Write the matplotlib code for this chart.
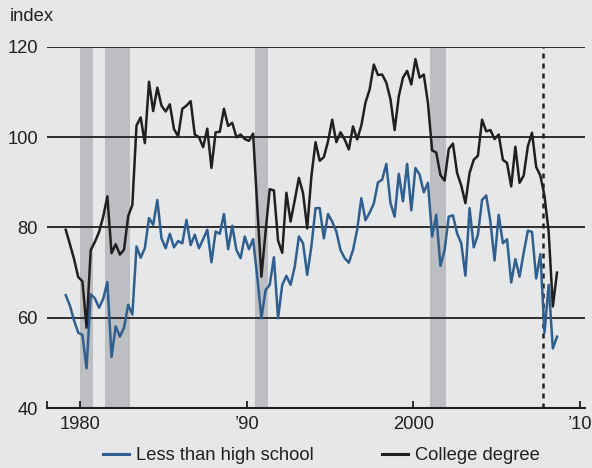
import numpy as np
import matplotlib.pyplot as plt
from matplotlib.lines import Line2D

# quarterly index values, 1979Q1 .. 2008Q3
start_year = 1979
college = [
    79.5, 76.3, 73.0, 69.0,
    68.1, 57.8, 75.0, 76.8,
    79.0, 82.4, 86.9, 74.3,
    76.3, 74.0, 75.1, 82.5,
    85.0, 102.6, 104.4, 98.7,
    112.3, 105.8, 111.0, 107.0,
    105.7, 107.3, 101.8, 100.2,
    106.3, 107.0, 108.0, 100.6,
    100.0, 97.8, 101.9, 93.2,
    101.1, 101.2, 106.3, 102.5,
    103.2, 100.0, 100.6, 99.6,
    99.2, 100.8, 84.7, 69.1,
    79.1, 88.5, 88.2, 77.1,
    74.4, 87.7, 81.3, 86.0,
    91.0, 87.6, 79.8, 91.3,
    98.9, 94.8, 95.6, 99.1,
    103.9, 98.9, 101.1, 99.5,
    97.3, 102.4, 99.5, 102.6,
    107.7, 110.6, 116.1, 113.8,
    113.9, 112.1, 108.4, 101.6,
    109.1, 113.2, 114.7, 111.7,
    117.3, 113.2, 113.9, 107.6,
    97.1, 96.6, 91.6, 90.4,
    97.4, 98.6, 92.1, 89.3,
    85.4, 92.1, 95.0, 95.9,
    103.9, 101.3, 101.6, 99.6,
    100.6, 95.0, 94.3, 89.1,
    97.9, 89.9, 91.5, 98.0,
    101.0, 93.4, 91.5, 87.0,
    79.0, 62.5, 70.0,
]
less_hs = [
    65.0, 62.7, 59.4, 56.7,
    56.2, 48.8, 65.2, 64.3,
    62.2, 64.2, 67.9, 51.3,
    58.1, 55.8, 57.8, 62.9,
    60.7, 75.8, 73.3, 75.4,
    82.1, 80.6, 86.1, 77.6,
    75.4, 78.6, 75.6, 77.0,
    76.5, 81.7, 76.1, 78.4,
    75.4, 77.4, 79.5, 72.3,
    79.1, 78.6, 83.0, 75.2,
    80.4, 75.0, 73.2, 78.0,
    75.2, 77.4, 69.1, 59.9,
    66.1, 67.3, 73.4, 59.9,
    67.3, 69.3, 67.3, 71.3,
    78.0, 76.5, 69.5, 75.8,
    84.3, 84.3, 77.6, 83.0,
    81.3, 79.1, 75.0, 73.2,
    72.2, 75.0, 79.5, 86.5,
    81.6, 83.3, 85.3, 90.0,
    90.6, 94.1, 85.4, 82.4,
    91.9, 85.8, 94.1, 83.8,
    93.2, 91.7, 87.8, 89.9,
    78.0, 82.8, 71.5, 75.0,
    82.4, 82.7, 78.7, 76.5,
    69.3, 84.3, 75.6, 78.4,
    86.1, 87.1, 81.3, 72.7,
    82.8, 76.5, 77.4, 67.8,
    73.0, 69.1, 74.4, 79.3,
    79.0, 68.7, 74.1, 56.7,
    67.3, 53.2, 55.8,
]
recessions = [(1980.0, 1980.75), (1981.5, 1983.0), (1990.5, 1991.25), (2001.0, 2001.95)]
latest_start = 2007.77

xticks = [1980, 1990, 2000, 2010]
xtick_labels = ['1980', '\u201990', '2000', '\u201910']
yticks = [40, 60, 80, 100, 120]

bg = '#e6e7e9'
blue = '#2f5f8e'
black = '#231f20'
fs = 13.2

plt.rcParams['font.family'] = ['Liberation Sans', 'DejaVu Sans']

# x positions: middle of each quarter
t = start_year + 0.125 + 0.25 * np.arange(len(college))

fig = plt.figure(figsize=(5.92, 4.68), dpi=100, facecolor=bg)
ax = fig.add_axes([0.0794, 0.1282, 0.9086, 0.7714], facecolor=bg)

for a, b in recessions:
    ax.axvspan(a, b, color='#bdbec2', lw=0, zorder=1)

for y in yticks[1:]:
    ax.axhline(y, color=black, lw=1.3, zorder=2)

ax.axvline(latest_start, color=black, lw=1.8, ls=(0, (2, 2)), zorder=3)

ax.plot(t, less_hs, color=blue, lw=1.8, zorder=4, label='Less than high school')
ax.plot(t, college, color=black, lw=1.8, zorder=5, label='College degree')

ax.set_xlim(1978.0, 2010.3)
ax.set_ylim(40, 120)
ax.set_yticks(yticks)
ax.set_xticks(xticks)
ax.set_xticklabels(xtick_labels)
ax.set_xticks([1978.0], minor=True)
ax.tick_params(axis='y', length=0, pad=6.5, labelsize=fs, colors=black)
ax.tick_params(axis='x', which='both', direction='in', length=5, width=1.3,
               pad=6, labelsize=fs, colors=black)
for s in ['top', 'right', 'left']:
    ax.spines[s].set_visible(False)
ax.spines['bottom'].set_linewidth(1.5)
ax.spines['bottom'].set_color(black)

fig.text(0.017, 0.965, 'index', fontsize=fs, color=black, va='center', ha='left')

handles = [Line2D([], [], color=blue, lw=2.2), Line2D([], [], color=black, lw=2.2)]
fig.legend(handles, ['Less than high school', 'College degree'],
           loc='center', bbox_to_anchor=(0.543, 0.026), ncol=2, frameon=False,
           fontsize=fs, handlelength=1.42, handletextpad=0.38, columnspacing=3.7,
           labelcolor=black)

fig.savefig('out.png', dpi=100, facecolor=bg)
